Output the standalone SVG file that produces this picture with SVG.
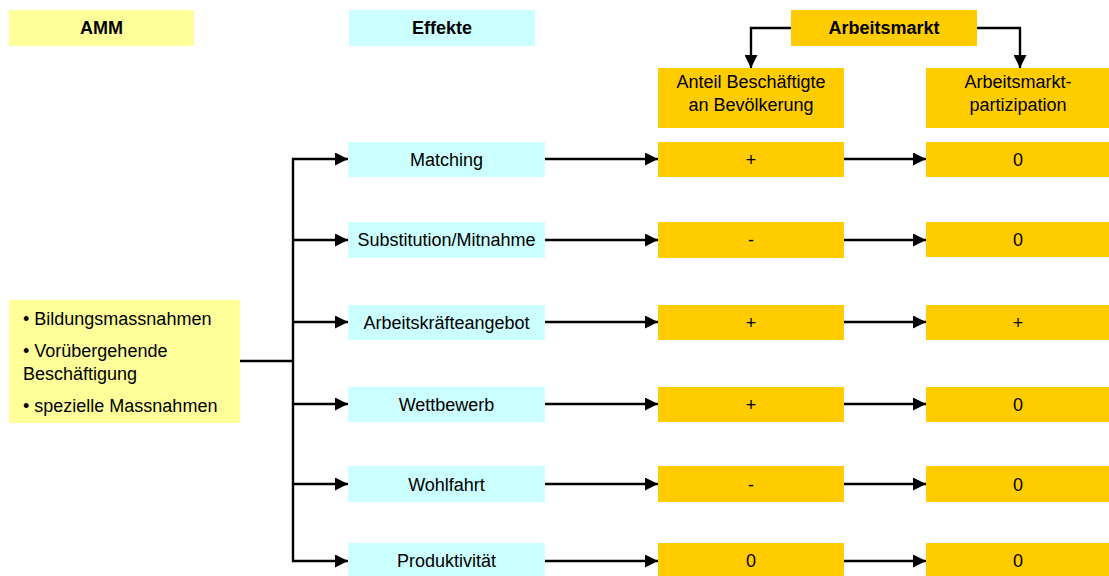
<svg xmlns="http://www.w3.org/2000/svg" width="1109" height="576" viewBox="0 0 1109 576">
<style>
text{font-family:"Liberation Sans",Arial,sans-serif;font-size:18px;fill:#000;}
.h{font-weight:bold;}
.m{text-anchor:middle;}
.y{fill:#FFFF99;}
.c{fill:#CCFFFF;}
.o{fill:#FFCC00;}
.ln{stroke:#000;stroke-width:2.4;fill:none;}
.a{marker-end:url(#ah);}
</style>
<defs>
<marker id="ah" markerUnits="userSpaceOnUse" markerWidth="13" markerHeight="13" viewBox="0 0 13 13" refX="13" refY="6.5" orient="auto">
<path d="M0,0 L13,6.5 L0,13 Z" fill="#000"/>
</marker>
</defs>
<rect width="1109" height="576" fill="#fff"/>
<g id="hdr-amm"><rect class="y" x="9" y="10" width="185" height="36"/><text class="h m" x="101.5" y="34">AMM</text></g>
<g id="hdr-effekte"><rect class="c" x="349" y="10" width="186" height="36"/><text class="h m" x="442" y="34">Effekte</text></g>
<g id="hdr-arbeitsmarkt"><rect class="o" x="791" y="10" width="186" height="36"/><text class="h m" x="884" y="34">Arbeitsmarkt</text></g>
<g id="hdr-anteil"><rect class="o" x="658" y="68" width="186" height="60"/><text class="m" x="751" y="88">Anteil Beschäftigte</text><text class="m" x="751" y="111">an Bevölkerung</text></g>
<g id="hdr-partizipation"><rect class="o" x="926" y="68" width="186" height="60"/><text class="m" x="1018" y="88">Arbeitsmarkt-</text><text class="m" x="1018" y="111">partizipation</text></g>
<g id="amm-list"><rect class="y" x="9" y="300" width="231" height="123"/>
<text x="23" y="325">• Bildungsmassnahmen</text>
<text x="23" y="357">• Vorübergehende</text>
<text x="23" y="380">Beschäftigung</text>
<text x="23" y="412">• spezielle Massnahmen</text></g>
<g id="e-matching"><rect class="c" x="348" y="142" width="197" height="35"/><text class="m" x="446.5" y="166">Matching</text></g>
<g id="e-substitution"><rect class="c" x="348" y="222" width="197" height="36"/><text class="m" x="446.5" y="246">Substitution/Mitnahme</text></g>
<g id="e-angebot"><rect class="c" x="348" y="305" width="197" height="35"/><text class="m" x="446.5" y="329">Arbeitskräfteangebot</text></g>
<g id="e-wettbewerb"><rect class="c" x="348" y="387" width="197" height="35"/><text class="m" x="446.5" y="411">Wettbewerb</text></g>
<g id="e-wohlfahrt"><rect class="c" x="348" y="466" width="197" height="36"/><text class="m" x="446.5" y="491">Wohlfahrt</text></g>
<g id="e-produktivitaet"><rect class="c" x="348" y="543" width="197" height="36"/><text class="m" x="446.5" y="567">Produktivität</text></g>
<g id="a-1"><rect class="o" x="658" y="142" width="186" height="35"/><text class="m" x="751" y="166">+</text></g>
<g id="a-2"><rect class="o" x="658" y="222" width="186" height="36"/><text class="m" x="751" y="246">-</text></g>
<g id="a-3"><rect class="o" x="658" y="305" width="186" height="35"/><text class="m" x="751" y="329">+</text></g>
<g id="a-4"><rect class="o" x="658" y="387" width="186" height="35"/><text class="m" x="751" y="411">+</text></g>
<g id="a-5"><rect class="o" x="658" y="466" width="186" height="36"/><text class="m" x="751" y="491">-</text></g>
<g id="a-6"><rect class="o" x="658" y="543" width="186" height="36"/><text class="m" x="751" y="567">0</text></g>
<g id="p-1"><rect class="o" x="926" y="142" width="186" height="35"/><text class="m" x="1018" y="166">0</text></g>
<g id="p-2"><rect class="o" x="926" y="222" width="186" height="35"/><text class="m" x="1018" y="246">0</text></g>
<g id="p-3"><rect class="o" x="926" y="305" width="186" height="35"/><text class="m" x="1018" y="329">+</text></g>
<g id="p-4"><rect class="o" x="926" y="387" width="186" height="35"/><text class="m" x="1018" y="411">0</text></g>
<g id="p-5"><rect class="o" x="926" y="466" width="186" height="36"/><text class="m" x="1018" y="491">0</text></g>
<g id="p-6"><rect class="o" x="926" y="543" width="186" height="36"/><text class="m" x="1018" y="567">0</text></g>
<g id="connectors">
<path class="ln a" d="M791,28 H751 V68"/>
<path class="ln a" d="M977,28 H1020 V68"/>
<path class="ln" d="M240,361 H293"/>
<path class="ln" d="M293,158 V562"/>
<path class="ln a" d="M292,159 H348"/>
<path class="ln a" d="M292,240 H348"/>
<path class="ln a" d="M292,322 H348"/>
<path class="ln a" d="M292,404 H348"/>
<path class="ln a" d="M292,484 H348"/>
<path class="ln a" d="M292,561 H348"/>
<path class="ln a" d="M545,159 H658"/>
<path class="ln a" d="M545,240 H658"/>
<path class="ln a" d="M545,322 H658"/>
<path class="ln a" d="M545,404 H658"/>
<path class="ln a" d="M545,484 H658"/>
<path class="ln a" d="M545,561 H658"/>
<path class="ln a" d="M844,159 H926"/>
<path class="ln a" d="M844,240 H926"/>
<path class="ln a" d="M844,322 H926"/>
<path class="ln a" d="M844,404 H926"/>
<path class="ln a" d="M844,484 H926"/>
<path class="ln a" d="M844,561 H926"/>
</g>
</svg>
